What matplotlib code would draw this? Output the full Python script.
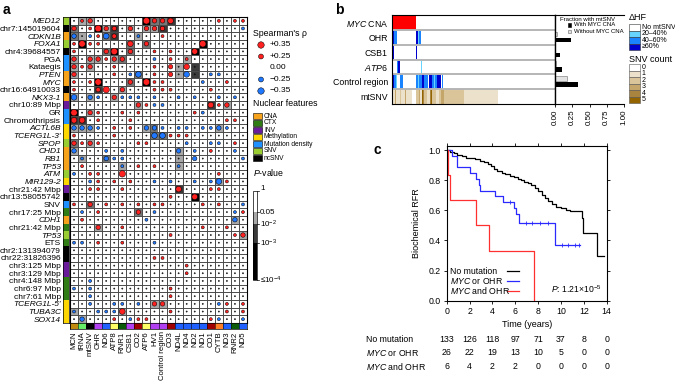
import numpy as np
import matplotlib
matplotlib.use('Agg')
import matplotlib.pyplot as plt
from matplotlib.colors import to_rgb
from matplotlib.patches import Rectangle
from matplotlib.transforms import blended_transform_factory

plt.rcParams['font.family'] = ['Liberation Sans', 'DejaVu Sans']
plt.rcParams['mathtext.fontset'] = 'custom'
plt.rcParams['mathtext.rm'] = 'Liberation Sans'
plt.rcParams['mathtext.it'] = 'Liberation Sans:italic'
plt.rcParams['axes.linewidth'] = 0.8

# ---------------- panel a data ----------------
row_labels = ["MED12", "chr7:145019604", "CDKN1B", "FOXA1", "chr4:39684557", "PGA",
              "Kataegis", "PTEN", "MYC", "chr16:64910033", "NKX3-1", "chr10:89 Mbp", "GR",
              "Chromothripsis", "ACTL6B", "TCERG1L-3'", "SPOP", "CHD1", "RB1", "TP53", "ATM",
              "MIR129-2", "chr21:42 Mbp", "chr13:58055742", "SNV", "chr17:25 Mbp", "CDH1",
              "chr21:42 Mbp", "TP53", "ETS", "chr2:131394079", "chr22:31826396", "chr3:125 Mbp",
              "chr3:129 Mbp", "chr4:148 Mbp", "chr6:97 Mbp", "chr7:61 Mbp", "TCERG1L-5'",
              "TUBA3C", "SOX14"]
row_italic = [1, 0, 1, 1, 0, 0, 0, 1, 1, 0, 1, 0, 0, 0, 1, 1, 1, 1, 1, 1, 1, 1, 0, 0, 0, 0, 1,
              0, 1, 0, 0, 0, 0, 0, 0, 0, 0, 1, 1, 1]
row_types = ["SNV", "ncSNV", "CNA", "SNV", "ncSNV", "Mutation density", "Mutation density",
             "CNA", "CNA", "ncSNV", "CNA", "INV", "Mutation density", "Mutation density",
             "Methylation", "Methylation", "SNV", "CNA", "CNA", "CNA", "SNV", "Methylation",
             "INV", "ncSNV", "Mutation density", "CTX", "CNA", "CTX", "SNV", "CTX", "ncSNV",
             "ncSNV", "INV", "INV", "CTX", "CTX", "CTX", "Methylation", "Methylation",
             "Methylation"]
col_labels = ["MCN", "tRNA", "mtSNV", "OHR", "ND6", "ATP8", "RNR1", "CSB1", "CO2", "ATP6",
              "HV1", "Control region", "CO3", "ND4L", "ND4", "ND2", "ND1", "CO1", "CYTB", "ND3",
              "RNR2", "ND5"]
col_colors = ["#c08a10", "#66ee66", "#000000", "#b040f0", "#2060ff", "#ffff66", "#0a5a0a",
              "#b040f0", "#a00000", "#ffff66", "#b040f0", "#b040f0", "#a00000", "#2060ff",
              "#2060ff", "#2060ff", "#2060ff", "#a00000", "#ff7f27", "#2060ff", "#0a5a0a",
              "#2060ff"]

# Spearman rho codes per cell (X/R/r/p positive, B/b/n negative, . ~0)
rho_codes = [
    ".pr......XrrR.....p.pp", "r.pXrr.r.rrr.........n", "b.npBr..n..p..........",
    "pXpp...R.r......X.....", "p...rX.r..p.p..R......", "r.rrprr...n.p.p.......",
    "rpr..p....p.r.R.......", "r....p.nB.p.r.B..nn...", "p.pX...r.Xpp....n..p..",
    "p..rX.r...ppp....p....", "B.bn.rnnn.n..n.n..n.n.", "........rpnn.....Rpr..",
    "X.rp..p.p......pn.....", "RR.p...p...........pp.", "bbbn.p.p.bbn.nn.nnbn..",
    "p....p....BBppp.......", "rprp....pp....n..nn.p.", "b...n.n......b.n.p..n.",
    ".n..bnn........b.....n", ".p....n.p.p..n........", "n.pp..X...........p...",
    "..np.p.p..n.n..n.nBp..", "..pp..p......R...pp...", "............p..R......",
    "p.r.p.p.p.pp....p.p..n", ".n.p....r.n.........np", ".p.......n..........b.",
    "...r..p.........p..p..", "............p.......pr", "nn.p..p...n...........",
    "......................", "..........pp..........", "..............p.......",
    "..............p.......", "..n...................", "n.n.........p.........",
    "..n.........p.........", "..n..nn.n.rr......np.p", "n..nnnR.....p......p.p",
    ".b...p.npp.......pn..n"]
# P-value class per cell: 0 >0.05, 1 <0.05, 2 <1e-2, 3 <1e-3, 4 <=1e-4
p_codes = [
    "0110000004223000000000", "2004130101130000000000", "2100230010000000000000",
    "0400000202000000400000", "0000240200000004000000", "1011012000000010000000",
    "1010000000000103000000", "1000000020000103000000", "0004000204000000000000",
    "0003001000000000000000", "1010010000000000000000", "0000000010000000030100",
    "4010000000000000000000", "3300000000000000000000", "1110000001200000001000",
    "0000000000220000000000", "2010000000000000000000", "1000000000000100000000",
    "0100200000000100000000", "0000001000000100000000", "0000000000000000000000",
    "0000000000000000001000", "0000000000000300000000", "0000000000000004000000",
    "0020000000000000000000", "0000000020000000000000", "0000000000000000000010",
    "0001000000000000000000", "0000000000000000000001", "0000000000000000000000",
    "0000000000000000000000", "0000000000000000000000", "0000000000000000000000",
    "0000000000000000000000", "0000000000000000000000", "0000000000000000000000",
    "0000000000000000000000", "0000000000110000000000", "1000001000000000000000",
    "0100000000000000000000"]
rho_vals = {'X': 0.35, 'R': 0.30, 'r': 0.22, 'p': 0.12, '.': 0.0,
            'n': -0.12, 'b': -0.22, 'B': -0.30}
p_colors = {'0': '#ffffff', '1': '#a8a8a8', '2': '#767676', '3': '#3a3a3a', '4': '#000000'}
feature_colors = {"CNA": "#f7a21b", "CTX": "#2f7d14", "INV": "#6a1b9a",
                  "Methylation": "#ffd700", "Mutation density": "#1e90ff",
                  "SNV": "#9acd32", "ncSNV": "#000000"}
legend_rho = [0.35, 0.25, 0.0, -0.25, -0.35]
legend_rho_text = ["+0.35", "+0.25", "0.00", "\u22120.25", "\u22120.35"]

# ---------------- panel b data (runs of samples: value, count) ----------------
b_rows = ["$\\mathit{MYC}$ CNA", "OHR", "CSB1", "$\\mathit{ATP6}$", "Control region", "mtSNV"]
myc_cna = [(1, 24), (0, 139)]
hf_ohr = [(3, 2), (2, 3), (0, 19), (3, 2), (1, 1), (2, 2), (0, 134)]
hf_csb1 = [(3, 2), (0, 22), (3, 1), (0, 138)]
hf_atp6 = [(0, 5), (2, 1), (3, 2), (0, 21), (1, 1), (0, 133)]
hf_control = [(3, 2), (2, 2), (1, 1), (0, 3), (2, 3), (0, 13),
              (2, 2), (1, 1), (2, 3), (3, 2), (2, 4), (0, 1), (3, 3), (2, 2), (1, 1),
              (2, 2), (3, 4), (0, 1), (2, 1), (0, 112)]
snv_count = [(1, 3), (3, 1), (1, 4), (2, 1), (1, 4), (3, 1), (1, 6), (0, 4),
             (2, 3), (3, 1), (1, 2), (5, 1), (4, 1), (2, 3), (1, 3), (4, 1), (5, 1),
             (2, 4), (1, 3), (2, 2), (3, 3), (2, 20), (1, 34), (0, 57)]
frac_with = [0.23, 0.07, 0.10, 0.33]
frac_without = [0.03, 0.005, 0.01, 0.18]
hf_labels = ["No mtSNV", "20\u201340%", "40\u201360%", "\u226560%"]
cna_colors = {0: '#ffffff', 1: '#ff0000'}
hf_colors = {0: '#ffffff', 1: '#66d4ff', 2: '#1a84ff', 3: '#0000cc'}
snv_colors = {0: '#ffffff', 1: '#ece2cc', 2: '#dac59b', 3: '#c4a56a', 4: '#a9843f', 5: '#946400'}

# ---------------- panel c data ----------------
t_none = [0, 0.3, 0.6, 0.9, 1.3, 1.7, 2.1, 2.5, 2.9, 3.3, 3.6, 3.9, 4.1, 4.4, 4.8, 5.1,
          5.5, 5.9, 6.2, 6.5, 6.8, 7.1, 7.4, 7.7, 8.0, 8.3, 8.6, 8.9, 9.2, 9.6, 10.0, 10.4,
          10.8, 11.8, 11.95, 13.15, 13.8]
s_none = [1.0, 0.99, 0.98, 0.965, 0.958, 0.95, 0.945, 0.94, 0.93, 0.922, 0.91, 0.895,
          0.875, 0.86, 0.845, 0.838, 0.83, 0.82, 0.81, 0.80, 0.79, 0.78, 0.765, 0.745,
          0.725, 0.705, 0.685, 0.66, 0.645, 0.625, 0.615, 0.605, 0.598, 0.55, 0.447, 0.30,
          0.30]
t_or = [0, 0.45, 0.9, 2.0, 2.6, 2.8, 2.95, 4.2, 4.9, 5.9, 6.1, 6.35, 9.5, 11.65]
s_or = [1.0, 0.962, 0.885, 0.846, 0.808, 0.77, 0.731, 0.692, 0.654, 0.615, 0.577, 0.519,
        0.371, 0.371]
cens_or = [5.5, 6.9, 7.5, 8.2, 8.9, 10.1, 10.6, 11.2, 11.6]
t_and = [0, 0.15, 0.3, 2.6, 3.7, 7.6]
s_and = [1.0, 0.833, 0.667, 0.5, 0.333, 0.0]
risk_times = [0, 2, 4, 6, 8, 10, 12, 14]
risk_none = [133, 126, 118, 97, 71, 37, 8, 0]
risk_or = [26, 22, 19, 13, 10, 5, 0, 0]
risk_and = [6, 4, 2, 2, 0, 0, 0, 0]

W, H = 675, 383
fig = plt.figure(figsize=(W / 100, H / 100), dpi=100)


def box(x0, y0, x1, y1):
    return [x0 / W, 1 - y1 / H, (x1 - x0) / W, (y1 - y0) / H]


def dot_size(r):
    return ((1.2 + 15 * np.abs(r)) * 0.72) ** 2


def dot_color(r):
    return np.where(r > 0, '#ff2020', np.where(r < 0, '#1f78ff', '#333333'))


# ---------------- panel a ----------------
nr, nc = len(row_labels), len(col_labels)
ax = fig.add_axes(box(70, 17, 247, 323))
bg = np.array([[to_rgb(p_colors[c]) for c in row] for row in p_codes])
ax.imshow(bg, aspect='auto', extent=(-0.5, nc - 0.5, nr - 0.5, -0.5), interpolation='nearest')
for i in range(nr + 1):
    ax.axhline(i - 0.5, color='#4a4a4a', lw=0.7)
for j in range(nc + 1):
    ax.axvline(j - 0.5, color='#4a4a4a', lw=0.7)
rho = np.array([[rho_vals[c] for c in row] for row in rho_codes])
yy, xx = np.mgrid[0:nr, 0:nc]
ax.scatter(xx.ravel(), yy.ravel(), s=dot_size(rho).ravel(), c=dot_color(rho).ravel(),
           edgecolors='black', linewidths=0.35, zorder=3)
ax.set_xlim(-0.5, nc - 0.5)
ax.set_ylim(nr - 0.5, -0.5)
ax.set_xticks([])
ax.set_yticks([])

ax_r = fig.add_axes(box(63, 17, 68.5, 323))
ax_r.imshow(np.array([[to_rgb(feature_colors[t])] for t in row_types]), aspect='auto',
            extent=(-0.5, 0.5, nr - 0.5, -0.5), interpolation='nearest')
ax_r.set_xticks([])
ax_r.set_yticks(range(nr))
ax_r.set_yticklabels(row_labels, fontsize=6)
ax_r.tick_params(length=0, pad=1.5)
for lbl, it in zip(ax_r.get_yticklabels(), row_italic):
    if it:
        lbl.set_style('italic')
for s in ax_r.spines.values():
    s.set_linewidth(0.5)

ax_cs = fig.add_axes(box(70, 323, 247, 328.5))
ax_cs.imshow(np.array([[to_rgb(c) for c in col_colors]]), aspect='auto',
             extent=(-0.5, nc - 0.5, 0.5, -0.5), interpolation='nearest')
for j in range(nc + 1):
    ax_cs.axvline(j - 0.5, color='black', lw=0.4)
ax_cs.set_yticks([])
ax_cs.set_xticks(range(nc))
ax_cs.set_xticklabels(col_labels, rotation=90, fontsize=5.6)
ax_cs.tick_params(length=0, pad=2)
for s in ax_cs.spines.values():
    s.set_linewidth(0.5)

# ---------------- panel b ----------------
N = sum(n for _, n in myc_cna)


def expand(runs, cmap):
    vals = np.concatenate([np.full(n, v) for v, n in runs])
    return [to_rgb(cmap[v]) for v in vals]


img = np.array([expand(myc_cna, cna_colors), expand(hf_ohr, hf_colors),
                expand(hf_csb1, hf_colors), expand(hf_atp6, hf_colors),
                expand(hf_control, hf_colors), expand(snv_count, snv_colors)])
ax_b = fig.add_axes(box(392, 15, 555, 104))
ax_b.imshow(img, aspect='auto', extent=(-0.5, N - 0.5, 5.5, -0.5), interpolation='nearest')
for i in range(1, 6):
    ax_b.axhline(i - 0.5, color='#b5b5b5', lw=1.4)
ax_b.set_xticks([])
ax_b.set_yticks(range(6))
ax_b.set_yticklabels(b_rows, fontsize=6.3)
ax_b.tick_params(length=0, pad=3)

ax_bar = fig.add_axes(box(555, 15, 624, 104))
ypos = np.arange(1, 5)
ax_bar.barh(ypos - 0.22, frac_without, height=0.3, color='#e3e3e3', edgecolor='#888888',
            linewidth=0.5)
ax_bar.barh(ypos + 0.18, frac_with, height=0.3, color='black')
ax_bar.set_xlim(0, 1)
ax_bar.set_ylim(5.5, -0.5)
ax_bar.set_yticks([])
ax_bar.set_xticks([0, 0.25, 0.5, 0.75, 1.0])
ax_bar.set_xticklabels(['0.00', '0.25', '0.50', '0.75', '1.00'], rotation=90, fontsize=5.8)
ax_bar.tick_params(axis='x', length=2.5, width=0.6, pad=1.5)
ax_bar.spines['right'].set_visible(False)
ax_bar.spines['left'].set_linewidth(1.0)

# ---------------- panel c ----------------
ax_c = fig.add_axes(box(446.7, 146, 606.7, 300.7))
ax_c.step(t_none, s_none, where='post', color='black', lw=0.9)
ax_c.step(t_or, s_or, where='post', color='#2a2aff', lw=0.9)
ax_c.step(t_and, s_and, where='post', color='#ff3030', lw=0.9)
cens_y = [s_or[np.searchsorted(t_or, t, side='right') - 1] for t in cens_or]
ax_c.plot(cens_or, cens_y, '|', color='#2a2aff', ms=2.5, mew=0.6)
ax_c.set_xlim(0, 14)
ax_c.set_ylim(0, 1.027)
ax_c.set_xticks(range(0, 15, 2))
ax_c.set_yticks(np.arange(0, 1.01, 0.2))
ax_c.set_yticklabels(['%.1f' % v for v in np.arange(0, 1.01, 0.2)])
ax_c.tick_params(labelsize=6.3, length=2.5, width=0.6, pad=2, top=True, right=True)
ax_c.set_xlabel('Time (years)', fontsize=6.5, labelpad=3)
ax_c.set_ylabel('Biochemical RFR', fontsize=6.5, labelpad=5)
ax_c.text(0.97, 0.04, '$\\mathit{P}$: 1.21\u00d710$^{-5}$', transform=ax_c.transAxes,
          ha='right', va='bottom', fontsize=6.2)

trans = blended_transform_factory(ax_c.transData, fig.transFigure)
for yv, counts in zip([339, 352.5, 366.5], [risk_none, risk_or, risk_and]):
    for t, n in zip(risk_times, counts):
        fig.text(t, 1 - yv / H, str(n), transform=trans, ha='center', va='center', fontsize=6.3)

# ---------------- overlay: legends and panel letters ----------------
ov = fig.add_axes([0, 0, 1, 1])
ov.set_xlim(0, W)
ov.set_ylim(H, 0)
ov.axis('off')

ov.text(3, 10, 'a', fontsize=10, fontweight='bold', va='center')
ov.text(335, 10, 'b', fontsize=10, fontweight='bold', va='center')
ov.text(373, 150, 'c', fontsize=10, fontweight='bold', va='center')

# Spearman legend (no marker for 0.00)
ov.text(253, 34, "Spearman's \u03c1", fontsize=6.3, va='center')
ly = [45, 56.5, 67.5, 79.5, 91]
lr = np.array(legend_rho)
show = lr != 0
ov.scatter(np.full(show.sum(), 261), np.array(ly)[show], s=dot_size(lr[show]),
           c=dot_color(lr[show]), edgecolors='black', linewidths=0.35)
for y, t in zip(ly, legend_rho_text):
    ov.text(270, y, t, fontsize=6, va='center')

# Nuclear features legend
ov.text(253, 103, 'Nuclear features', fontsize=6.3, va='center')
for k, (name, col) in enumerate(feature_colors.items()):
    y = 116 + 7 * k
    ov.add_patch(Rectangle((253, y - 3.2), 9, 6.4, facecolor=col, edgecolor='black', lw=0.4))
    ov.text(264, y, name, fontsize=4.8, va='center')

# P-value legend
ov.text(253, 173, '$\\mathit{P}$-value', fontsize=6.3, va='center')
segs = [(191, 212, p_colors['0']), (212, 224, p_colors['1']), (224, 243, p_colors['3']),
        (243, 280, p_colors['4'])]
for y0, y1, col in segs:
    ov.add_patch(Rectangle((253, y0), 4, y1 - y0, facecolor=col, edgecolor='none'))
ov.add_patch(Rectangle((253, 191), 4, 89, facecolor='none', edgecolor='black', lw=0.5))
for y, t in zip([189, 212, 224, 243, 280], ['1', '0.05', '10$^{-2}$', '10$^{-3}$',
                                            '\u226410$^{-4}$']):
    ov.plot([257, 259], [max(y, 191), max(y, 191)], color='black', lw=0.5)
    ov.text(260, y, t, fontsize=5.8, va='center')

# panel b legends
ov.text(587, 19.5, 'Fraction with mtSNV', fontsize=4.3, ha='center', va='center')
ov.add_patch(Rectangle((568, 23.3), 3.4, 3.4, facecolor='black', edgecolor='black', lw=0.4))
ov.text(573.5, 25, 'With MYC CNA', fontsize=4.3, va='center')
ov.add_patch(Rectangle((568, 29.8), 3.4, 3.4, facecolor='#e3e3e3', edgecolor='#666666', lw=0.4))
ov.text(573.5, 31.5, 'Without MYC CNA', fontsize=4.3, va='center')

ov.text(629, 18, '\u0394HF', fontsize=6.5, va='center')
for k, lab in enumerate(hf_labels):
    y0 = 24 + 6.5 * k
    ov.add_patch(Rectangle((629, y0), 11, 6.5, facecolor=hf_colors[k], edgecolor='#333333',
                           lw=0.4))
    ov.text(641.5, y0 + 3.25, lab, fontsize=5, va='center')
ov.text(629, 60, 'SNV count', fontsize=6.5, va='center')
for k in range(6):
    y0 = 64 + 6.5 * k
    ov.add_patch(Rectangle((629, y0), 11, 6.5, facecolor=snv_colors[k], edgecolor='#555555',
                           lw=0.4))
    ov.text(641.5, y0 + 3.25, str(k), fontsize=5, va='center')

# panel c legend and risk labels
km_leg = [('No mutation', 'black'), ('$\\mathit{MYC}$ or OHR', '#2a2aff'),
          ('$\\mathit{MYC}$ and OHR', '#ff3030')]
for k, (lab, col) in enumerate(km_leg):
    y = 271 + 9.8 * k
    ov.text(450, y, lab, fontsize=6.3, va='center')
    ov.plot([507, 519], [y, y], color=col, lw=0.9)
for y, (lab, _) in zip([339, 352.5, 366.5], km_leg):
    ov.text(366, y, lab, fontsize=6.3, va='center')

fig.savefig('out.png', dpi=100)
